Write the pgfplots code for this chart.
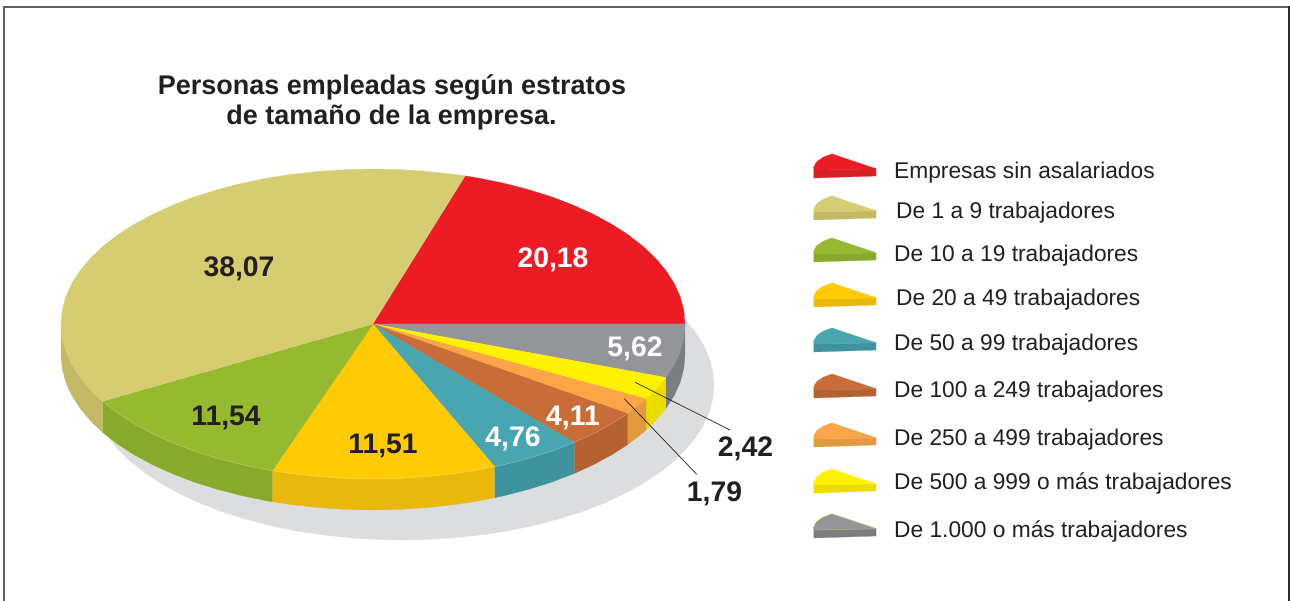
\documentclass[border=0pt]{standalone}
\usepackage{fontspec}
\setmainfont{Liberation Sans}
\usepackage{pgfplots}
\pgfplotsset{compat=1.18}
\definecolor{tred}{HTML}{ED1C24}\definecolor{wred}{HTML}{D71F26}
\definecolor{tkha}{HTML}{D6CD72}\definecolor{wkha}{HTML}{C2B967}
\definecolor{tgre}{HTML}{95BA30}\definecolor{wgre}{HTML}{87A92C}
\definecolor{tgol}{HTML}{FFCB05}\definecolor{wgol}{HTML}{E8B80C}
\definecolor{ttea}{HTML}{49A6B0}\definecolor{wtea}{HTML}{3F939E}
\definecolor{tbro}{HTML}{C96D38}\definecolor{wbro}{HTML}{B56030}
\definecolor{tora}{HTML}{FBA549}\definecolor{wora}{HTML}{E29A3F}
\definecolor{tyel}{HTML}{FFF200}\definecolor{wyel}{HTML}{EDDC00}
\definecolor{tgra}{HTML}{939598}\definecolor{wgra}{HTML}{7C7D80}
\definecolor{shad}{HTML}{DCDDDE}
\definecolor{ink}{HTML}{231F20}
\definecolor{fram}{HTML}{606060}
\definecolor{framr}{HTML}{2B2B2B}
\definecolor{oliv}{HTML}{B5B26A}
\pgfplotsset{sect/.style={draw=#1,fill=#1,line width=0.25pt,no markers}}
\newcommand{\lab}[1]{\fontsize{22.75}{26}\selectfont\color{ink}#1}
\newcommand{\val}[1]{\fontsize{28.3}{30}\selectfont\bfseries #1}
\begin{document}
\begin{tikzpicture}
\begin{axis}[
  scale only axis,width=1290pt,height=601pt,
  xmin=0,xmax=1290,ymin=0,ymax=601,y dir=reverse,
  hide axis,clip=true]
% page
\addplot[draw=none,fill=white,no markers] coordinates {(0,0)(1290,0)(1290,601)(0,601)};
% frame
\addplot[draw=fram,line width=1.8pt,no markers] coordinates {(4.3,601)(4.3,7)(1288.7,7)};
\addplot[draw=framr,line width=1.8pt,no markers] coordinates {(1288.7,6.1)(1288.7,601)};
% shadow
\addplot[sect=shad] coordinates {(373,324)(672.2,307.5)(684.8,319.5)(695.2,332)(703.4,344.9)(709.3,358.1)(712.8,371.5)(714,385)(712.8,398.5)(709.3,411.9)(703.4,425.1)(695.2,438)(684.8,450.5)(672.2,462.5)(657.6,473.9)(641,484.6)(622.6,494.6)(602.6,503.7)(581,512)(558,519.2)(533.9,525.5)(508.7,530.7)(482.7,534.7)(456.2,537.6)(429.2,539.4)(402,540)(374.8,539.4)(347.8,537.6)(321.3,534.7)(295.3,530.7)(270.1,525.5)(246,519.2)(223,512)(201.4,503.7)(181.4,494.6)(163,484.6)(146.4,473.9)(131.8,462.5)(119.2,450.5)(108.8,438)};
% walls
\addplot[sect=wgra] coordinates {(685,324)(683.8,337.5)(680.3,350.9)(674.4,364.1)(666.2,377)(665.8,377.5)(665.8,408.5)(666.2,408)(674.4,395.1)(680.3,381.9)(683.8,368.5)(685,355)};
\addplot[sect=wyel] coordinates {(665.8,377.5)(655.8,389.5)(646.2,398.9)(646.2,429.9)(655.8,420.5)(665.8,408.5)};
\addplot[sect=wora] coordinates {(646.2,398.9)(643.2,401.5)(628.6,412.9)(627.6,413.6)(627.6,444.6)(628.6,443.9)(643.2,432.5)(646.2,429.9)};
\addplot[sect=wbro] coordinates {(627.6,413.6)(612,423.6)(593.6,433.6)(574.3,442.4)(574.3,473.4)(593.6,464.6)(612,454.6)(627.6,444.6)};
\addplot[sect=wtea] coordinates {(574.3,442.4)(552,451)(529,458.2)(504.9,464.5)(494.7,466.7)(494.7,497.7)(504.9,495.5)(529,489.2)(552,482)(574.3,473.4)};
\addplot[sect=wgol] coordinates {(494.7,466.7)(479.7,469.7)(453.7,473.7)(427.2,476.6)(400.2,478.4)(373,479)(345.8,478.4)(318.8,476.6)(292.3,473.7)(272.3,470.7)(272.3,501.7)(292.3,504.7)(318.8,507.6)(345.8,509.4)(373,510)(400.2,509.4)(427.2,507.6)(453.7,504.7)(479.7,500.7)(494.7,497.7)};
\addplot[sect=wgre] coordinates {(272.3,470.7)(266.3,469.7)(241.1,464.5)(217,458.2)(194,451)(172.4,442.7)(152.4,433.6)(134,423.6)(117.4,412.9)(102.8,401.5)(102.5,401.3)(102.5,432.3)(102.8,432.5)(117.4,443.9)(134,454.6)(152.4,464.6)(172.4,473.7)(194,482)(217,489.2)(241.1,495.5)(266.3,500.7)(272.3,501.7)};
\addplot[sect=wkha] coordinates {(102.5,401.3)(90.2,389.5)(79.8,377)(71.6,364.1)(65.7,350.9)(62.2,337.5)(61,324)(61,355)(62.2,368.5)(65.7,381.9)(71.6,395.1)(79.8,408)(90.2,420.5)(102.5,432.3)};
% top faces
\addplot[sect=tred] coordinates {(373,324)(465.3,175.9)(479.7,178.3)(504.9,183.5)(529,189.8)(552,197)(573.6,205.3)(593.6,214.4)(612,224.4)(628.6,235.1)(643.2,246.5)(655.8,258.5)(666.2,271)(674.4,283.9)(680.3,297.1)(683.8,310.5)(685,324)};
\addplot[sect=tgra] coordinates {(373,324)(685,324)(683.8,337.5)(680.3,350.9)(674.4,364.1)(666.2,377)(665.8,377.5)};
\addplot[sect=tyel] coordinates {(373,324)(665.8,377.5)(655.8,389.5)(646.2,398.9)};
\addplot[sect=tora] coordinates {(373,324)(646.2,398.9)(643.2,401.5)(628.6,412.9)(627.6,413.6)};
\addplot[sect=tbro] coordinates {(373,324)(627.6,413.6)(612,423.6)(593.6,433.6)(574.3,442.4)};
\addplot[sect=ttea] coordinates {(373,324)(574.3,442.4)(552,451)(529,458.2)(504.9,464.5)(494.7,466.7)};
\addplot[sect=tgol] coordinates {(373,324)(494.7,466.7)(479.7,469.7)(453.7,473.7)(427.2,476.6)(400.2,478.4)(373,479)(345.8,478.4)(318.8,476.6)(292.3,473.7)(272.3,470.7)};
\addplot[sect=tgre] coordinates {(373,324)(272.3,470.7)(266.3,469.7)(241.1,464.5)(217,458.2)(194,451)(172.4,442.7)(152.4,433.6)(134,423.6)(117.4,412.9)(102.8,401.5)(102.5,401.3)};
\addplot[sect=tkha] coordinates {(373,324)(102.5,401.3)(90.2,389.5)(79.8,377)(71.6,364.1)(65.7,350.9)(62.2,337.5)(61,324)(62.2,310.5)(65.7,297.1)(71.6,283.9)(79.8,271)(90.2,258.5)(102.8,246.5)(117.4,235.1)(134,224.4)(152.4,214.4)(172.4,205.3)(194,197)(217,189.8)(241.1,183.5)(266.3,178.3)(292.3,174.3)(318.8,171.4)(345.8,169.6)(373,169)(400.2,169.6)(427.2,171.4)(453.7,174.3)(465.3,175.9)};
% faint seam along the front rim
\addplot[draw=white,opacity=0.25,line width=0.5pt,no markers] coordinates {(102.5,401.3)(117.4,412.9)(134,423.6)(152.4,433.6)(172.4,442.7)(194,451)(217,458.2)(241.1,464.5)(266.3,469.7)(292.3,473.7)(318.8,476.6)(345.8,478.4)(373,479)(400.2,478.4)(427.2,476.6)(453.7,473.7)(479.7,469.7)(504.9,464.5)(529,458.2)(552,451)(574.3,442.4)(593.6,433.6)(612,423.6)(628.6,412.9)};
% leader lines
\addplot[draw=ink,line width=0.7pt,no markers] coordinates {(635,382.3)(730,430)};
\addplot[draw=ink,line width=0.7pt,no markers] coordinates {(624.3,398.7)(696.7,474.3)};
% legend icons
\addplot[sect=wred] coordinates {(813.5,170)(876,169)(876,176)(813.5,178)};
\addplot[sect=tred] coordinates {(813.5,168)(815,164.5)(817,161.5)(823,157.3)(832,154)(876,168.7)(876,169)(813.5,170)};
\addplot[sect=wkha] coordinates {(813.5,212)(876,211)(876,218)(813.5,220)};
\addplot[sect=tkha] coordinates {(813.5,210)(815,206.5)(817,203.5)(823,199.3)(832,196)(876,210.7)(876,211)(813.5,212)};
\addplot[sect=wgre] coordinates {(813.5,254)(876,253)(876,260)(813.5,262)};
\addplot[sect=tgre] coordinates {(813.5,252)(815,248.5)(817,245.5)(823,241.3)(832,238)(876,252.7)(876,253)(813.5,254)};
\addplot[sect=wgol] coordinates {(813.5,299)(876,298)(876,305)(813.5,307)};
\addplot[sect=tgol] coordinates {(813.5,297)(815,293.5)(817,290.5)(823,286.3)(832,283)(876,297.7)(876,298)(813.5,299)};
\addplot[sect=wtea] coordinates {(813.5,344)(876,343)(876,350)(813.5,352)};
\addplot[sect=ttea] coordinates {(813.5,342)(815,338.5)(817,335.5)(823,331.3)(832,328)(876,342.7)(876,343)(813.5,344)};
\addplot[sect=wbro] coordinates {(813.5,390)(876,389)(876,396)(813.5,398)};
\addplot[sect=tbro] coordinates {(813.5,388)(815,384.5)(817,381.5)(823,377.3)(832,374)(876,388.7)(876,389)(813.5,390)};
\addplot[sect=wora] coordinates {(813.5,439)(876,438)(876,445)(813.5,447)};
\addplot[sect=tora] coordinates {(813.5,437)(815,433.5)(817,430.5)(823,426.3)(832,423)(876,437.7)(876,438)(813.5,439)};
\addplot[sect=wyel] coordinates {(813.5,485)(876,484)(876,491)(813.5,493)};
\addplot[sect=tyel] coordinates {(813.5,483)(815,479.5)(817,476.5)(823,472.3)(832,469)(876,483.7)(876,484)(813.5,485)};
\addplot[sect=wgra] coordinates {(813.5,530)(876,529)(876,536)(813.5,538)};
\addplot[sect=tgra] coordinates {(813.5,528)(815,524.5)(817,521.5)(823,517.3)(832,514)(876,528.7)(876,529)(813.5,530)};
\addplot[draw=oliv,line width=0.5pt,no markers] coordinates {(813.5,530)(813.5,528)(815,524.5)(817,521.5)(823,517.3)(832,514)(876,528.7)(813.5,530)};
% title
\node[anchor=base,inner sep=0pt,text=ink] at (axis cs:392,94.5) {\fontsize{27}{30}\selectfont\bfseries Personas empleadas según estratos};
\node[anchor=base,inner sep=0pt,text=ink] at (axis cs:391.5,124.5) {\fontsize{27}{30}\selectfont\bfseries de tamaño de la empresa.};
% values
\node[text=ink,inner sep=0pt] at (axis cs:239,268.5) {\val{38,07}};
\node[text=white,inner sep=0pt] at (axis cs:553,259.5) {\val{20,18}};
\node[text=ink,inner sep=0pt] at (axis cs:226,417.5) {\val{11,54}};
\node[text=ink,inner sep=0pt] at (axis cs:383,445.5) {\val{11,51}};
\node[text=white,inner sep=0pt] at (axis cs:513,438.5) {\val{4,76}};
\node[text=white,inner sep=0pt] at (axis cs:573,417.5) {\val{4,11}};
\node[text=white,inner sep=0pt] at (axis cs:635,348.5) {\val{5,62}};
\node[text=ink,inner sep=0pt] at (axis cs:745.5,448.5) {\val{2,42}};
\node[text=ink,inner sep=0pt] at (axis cs:714.5,493.5) {\val{1,79}};
% legend text
\node[anchor=base west,inner sep=0pt] at (axis cs:894,179) {\lab{Empresas sin asalariados}};
\node[anchor=base west,inner sep=0pt] at (axis cs:896,219) {\lab{De 1 a 9 trabajadores}};
\node[anchor=base west,inner sep=0pt] at (axis cs:894,262) {\lab{De 10 a 19 trabajadores}};
\node[anchor=base west,inner sep=0pt] at (axis cs:896,306) {\lab{De 20 a 49 trabajadores}};
\node[anchor=base west,inner sep=0pt] at (axis cs:894,351) {\lab{De 50 a 99 trabajadores}};
\node[anchor=base west,inner sep=0pt] at (axis cs:894,397) {\lab{De 100 a 249 trabajadores}};
\node[anchor=base west,inner sep=0pt] at (axis cs:894,445) {\lab{De 250 a 499 trabajadores}};
\node[anchor=base west,inner sep=0pt] at (axis cs:894,489) {\lab{De 500 a 999 o más trabajadores}};
\node[anchor=base west,inner sep=0pt] at (axis cs:894,537) {\lab{De 1.000 o más trabajadores}};
\end{axis}
\end{tikzpicture}
\end{document}
